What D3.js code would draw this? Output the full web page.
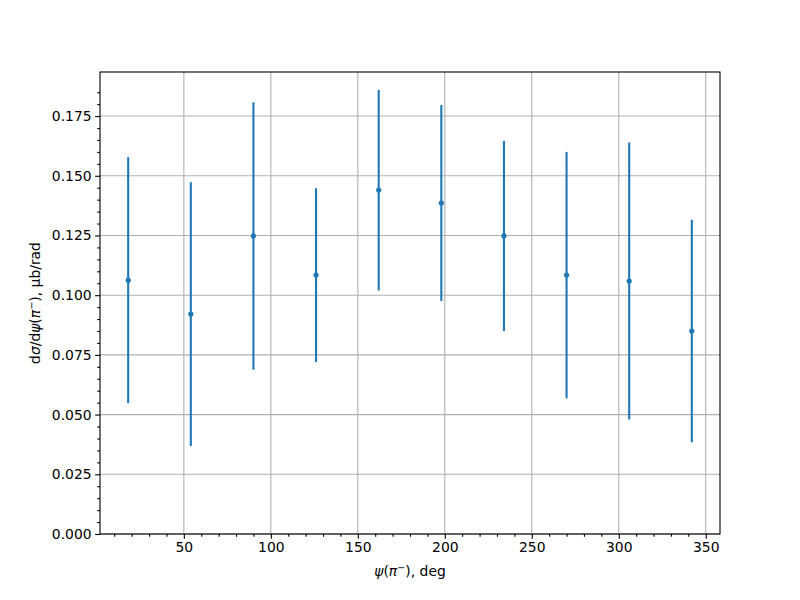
<!DOCTYPE html>
<html>
<head>
<meta charset="utf-8">
<script src="https://cdn.jsdelivr.net/npm/d3@7"></script>
<style>
  body { margin: 0; background: #fff; }
  svg { display: block; }
  text { font-family: "DejaVu Sans", sans-serif; }
</style>
</head>
<body>
<svg id="chart" width="800" height="600"></svg>
<script>
// ---- data ----
const psiDeg = [18, 54, 90, 126, 162, 198, 234, 270, 306, 342];
const dsigma = [0.1063, 0.0921, 0.1248, 0.1084, 0.1440, 0.1386, 0.1248, 0.1084, 0.1059, 0.0850];
const dsigmaErr = [0.0515, 0.0552, 0.0560, 0.0364, 0.0420, 0.0410, 0.0398, 0.0516, 0.0580, 0.0466];
const xTicks = [50, 100, 150, 200, 250, 300, 350];
const yTicks = [0, 0.025, 0.05, 0.075, 0.1, 0.125, 0.15, 0.175];

// ---- layout ----
const W = 800, H = 600;
const L = 100, R = 720, T = 72, B = 534;
const color = "#1f77b4";

const svg = d3.select("#chart");
svg.append("rect").attr("width", W).attr("height", H).attr("fill", "#fff");

const xmin = d3.min(psiDeg), xmax = d3.max(psiDeg);
const xm = (xmax - xmin) * 0.05;
const x = d3.scaleLinear().domain([xmin - xm, xmax + xm]).range([L, R]);

const lo = d3.min(dsigma.map((v, i) => v - dsigmaErr[i]));
const hi = d3.max(dsigma.map((v, i) => v + dsigmaErr[i]));
const ym = (hi - lo) * 0.05;
const y = d3.scaleLinear().domain([0, hi + ym]).range([B, T]);

// grid
const grid = svg.append("g");
grid.selectAll("line.gx").data(xTicks).join("line")
  .attr("x1", d => x(d)).attr("x2", d => x(d)).attr("y1", T).attr("y2", B)
  .attr("stroke", "#b0b0b0").attr("stroke-width", 1.1);
grid.selectAll("line.gy").data(yTicks).join("line")
  .attr("y1", d => y(d)).attr("y2", d => y(d)).attr("x1", L).attr("x2", R)
  .attr("stroke", "#b0b0b0").attr("stroke-width", 1.1);

// error bars
const g = svg.append("g");
g.selectAll("line.err").data(psiDeg).join("line")
  .attr("x1", d => x(d)).attr("x2", d => x(d))
  .attr("y1", (d, i) => y(dsigma[i] - dsigmaErr[i]))
  .attr("y2", (d, i) => y(dsigma[i] + dsigmaErr[i]))
  .attr("stroke", color).attr("stroke-width", 2.1);
g.selectAll("circle").data(psiDeg).join("circle")
  .attr("cx", d => x(d)).attr("cy", (d, i) => y(dsigma[i]))
  .attr("r", 2.6).attr("fill", color);

// axes
const xAxis = d3.axisBottom(x).tickValues(xTicks).tickFormat(d3.format("d"))
  .tickSize(4.86).tickPadding(3.5);
const xMinor = d3.axisBottom(x)
  .tickValues(d3.range(10, 360, 10).filter(v => v % 50 !== 0))
  .tickSize(2.78).tickFormat("");
const yAxis = d3.axisLeft(y).tickValues(yTicks).tickFormat(d3.format(".3f"))
  .tickSize(4.86).tickPadding(3.5);
const yMinor = d3.axisLeft(y)
  .tickValues(d3.range(0.005, 0.19, 0.005).filter(v => Math.abs(v / 0.025 - Math.round(v / 0.025)) > 1e-6))
  .tickSize(2.78).tickFormat("");

function style(sel) {
  sel.select(".domain").remove();
  sel.selectAll("line").attr("stroke", "#000").attr("stroke-width", 1.1);
  sel.selectAll("text").attr("fill", "#000").style("font-size", "13.9px")
    .style("font-family", "DejaVu Sans, sans-serif");
}
svg.append("g").attr("transform", `translate(0,${B})`).call(xAxis).call(style);
svg.append("g").attr("transform", `translate(0,${B})`).call(xMinor).call(style);
svg.append("g").attr("transform", `translate(${L},0)`).call(yAxis).call(style);
svg.append("g").attr("transform", `translate(${L},0)`).call(yMinor).call(style);

// spines
svg.append("rect").attr("x", L).attr("y", T).attr("width", R - L).attr("height", B - T)
  .attr("fill", "none").attr("stroke", "#000").attr("stroke-width", 1.1);

// labels
const xl = svg.append("text").attr("x", (L + R) / 2).attr("y", 576)
  .attr("text-anchor", "middle").style("font-size", "13.9px");
xl.append("tspan").style("font-style", "italic").text("ψ");
xl.append("tspan").text("(");
xl.append("tspan").style("font-style", "italic").text("π");
xl.append("tspan").attr("dy", -5).style("font-size", "9.7px").text("−");
xl.append("tspan").attr("dy", 5).text("), deg");

const yl = svg.append("text")
  .attr("transform", `translate(40,${(T + B) / 2}) rotate(-90)`)
  .attr("text-anchor", "middle").style("font-size", "13.9px");
yl.append("tspan").text("d");
yl.append("tspan").style("font-style", "italic").text("σ");
yl.append("tspan").text("/d");
yl.append("tspan").style("font-style", "italic").text("ψ");
yl.append("tspan").text("(");
yl.append("tspan").style("font-style", "italic").text("π");
yl.append("tspan").attr("dy", -5).style("font-size", "9.7px").text("−");
yl.append("tspan").attr("dy", 5).text("), μb/rad");
</script>
</body>
</html>
